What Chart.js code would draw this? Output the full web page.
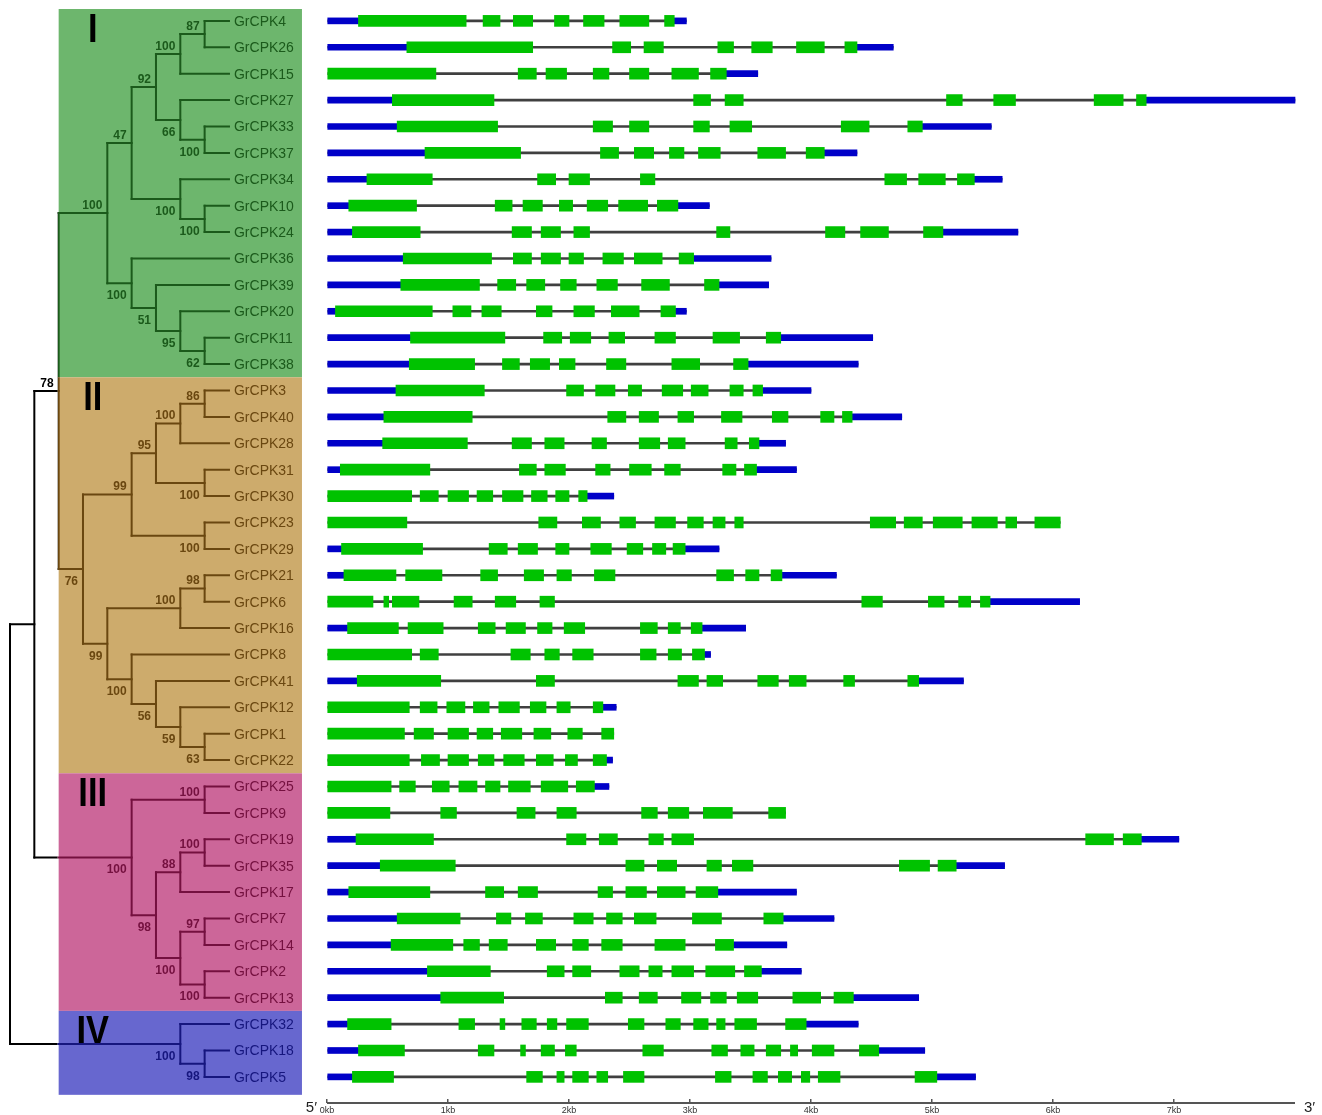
<!DOCTYPE html>
<html>
<head>
<meta charset="utf-8">
<script src="https://cdn.jsdelivr.net/npm/chart.js@4.4.1/dist/chart.umd.min.js"></script>
<style>
  html, body { margin: 0; padding: 0; background: #ffffff; }
  canvas { display: block; }
</style>
</head>
<body>
<canvas id="cpk" width="1322" height="1115"></canvas>
<script>
// Gene order (top to bottom) as it comes out of the tree
const geneNames = [
  'GrCPK4','GrCPK26','GrCPK15','GrCPK27','GrCPK33','GrCPK37','GrCPK34','GrCPK10','GrCPK24','GrCPK36',
  'GrCPK39','GrCPK20','GrCPK11','GrCPK38','GrCPK3','GrCPK40','GrCPK28','GrCPK31','GrCPK30','GrCPK23',
  'GrCPK29','GrCPK21','GrCPK6','GrCPK16','GrCPK8','GrCPK41','GrCPK12','GrCPK1','GrCPK22','GrCPK25',
  'GrCPK9','GrCPK19','GrCPK35','GrCPK17','GrCPK7','GrCPK14','GrCPK2','GrCPK13','GrCPK32','GrCPK18','GrCPK5'
];

// Total gene length (kb), transcription start at 0
const geneEnd = [
  2.97, 4.68, 3.56, 8.00, 5.49, 4.38, 5.58, 3.16, 5.71, 3.67,
  3.65, 2.97, 4.51, 4.39, 4.00, 4.75, 3.79, 3.88, 2.37, 6.06,
  3.24, 4.21, 6.22, 3.46, 3.17, 5.26, 2.39, 2.37, 2.36, 2.33,
  3.79, 7.04, 5.60, 3.88, 4.19, 3.80, 3.92, 4.89, 4.39, 4.94, 5.36
];

// CDS exons per gene as start,end pairs (kb); UTRs fill the gaps to 0 and to geneEnd
const exonBounds = [
  [0.26,1.15,1.29,1.43,1.54,1.70,1.88,2.00,2.12,2.29,2.42,2.66,2.79,2.87],
  [0.66,1.70,2.36,2.51,2.62,2.78,3.23,3.36,3.51,3.68,3.88,4.11,4.28,4.38],
  [0,0.90,1.58,1.73,1.81,1.98,2.20,2.33,2.50,2.66,2.85,3.07,3.17,3.30],
  [0.54,1.38,3.03,3.17,3.29,3.44,5.12,5.25,5.51,5.69,6.34,6.58,6.69,6.77],
  [0.58,1.41,2.20,2.36,2.50,2.66,3.03,3.16,3.33,3.51,4.25,4.48,4.80,4.92],
  [0.81,1.60,2.26,2.41,2.54,2.70,2.83,2.95,3.07,3.25,3.56,3.79,3.96,4.11],
  [0.33,0.87,1.74,1.89,2.00,2.17,2.59,2.71,4.61,4.79,4.89,5.11,5.21,5.35],
  [0.18,0.74,1.39,1.53,1.62,1.78,1.92,2.03,2.15,2.32,2.41,2.65,2.73,2.90],
  [0.21,0.77,1.53,1.69,1.77,1.93,2.04,2.17,3.22,3.33,4.12,4.28,4.41,4.64,4.93,5.09],
  [0.63,1.36,1.54,1.69,1.77,1.93,2.00,2.12,2.28,2.45,2.54,2.77,2.91,3.03],
  [0.61,1.26,1.41,1.56,1.65,1.80,1.93,2.06,2.23,2.40,2.60,2.83,3.12,3.24],
  [0.07,0.87,1.04,1.19,1.28,1.44,1.73,1.86,2.04,2.21,2.35,2.58,2.76,2.88],
  [0.69,1.47,1.79,1.94,2.01,2.18,2.33,2.46,2.71,2.88,3.19,3.41,3.63,3.75],
  [0.68,1.22,1.45,1.59,1.68,1.84,1.92,2.05,2.31,2.47,2.85,3.08,3.36,3.48],
  [0.57,1.30,1.98,2.12,2.22,2.38,2.49,2.60,2.77,2.94,3.01,3.15,3.33,3.44,3.52,3.60],
  [0.47,1.20,2.32,2.47,2.58,2.74,2.90,3.03,3.26,3.43,3.68,3.81,4.08,4.19,4.26,4.34],
  [0.46,1.16,1.53,1.69,1.80,1.96,2.19,2.31,2.58,2.75,2.82,2.96,3.29,3.39,3.49,3.57],
  [0.11,0.85,1.59,1.73,1.80,1.97,2.22,2.34,2.50,2.68,2.79,2.92,3.27,3.38,3.45,3.55],
  [0,0.70,0.77,0.92,1.00,1.17,1.24,1.37,1.45,1.62,1.69,1.82,1.89,2.00,2.08,2.15],
  [0,0.66,1.75,1.90,2.11,2.26,2.42,2.55,2.71,2.88,2.98,3.11,3.19,3.29,3.37,3.44,4.49,4.70,4.77,4.92,5.01,5.25,5.33,5.54,5.61,5.70,5.85,6.06],
  [0.12,0.79,1.34,1.49,1.58,1.74,1.89,2.00,2.18,2.35,2.48,2.61,2.69,2.80,2.86,2.96],
  [0.14,0.57,0.65,0.95,1.27,1.41,1.63,1.79,1.90,2.02,2.21,2.38,3.22,3.36,3.46,3.57,3.67,3.76],
  [0,0.38,0.47,0.51,0.54,0.76,1.05,1.20,1.39,1.56,1.76,1.88,4.42,4.59,4.97,5.10,5.22,5.32,5.40,5.48],
  [0.17,0.59,0.67,0.96,1.25,1.39,1.48,1.64,1.74,1.86,1.96,2.13,2.59,2.73,2.82,2.92,3.01,3.10],
  [0,0.70,0.77,0.92,1.52,1.68,1.80,1.92,2.03,2.20,2.59,2.72,2.82,2.93,3.02,3.12],
  [0.25,0.94,1.73,1.88,2.90,3.07,3.14,3.27,3.56,3.73,3.82,3.96,4.27,4.36,4.80,4.89],
  [0,0.68,0.77,0.91,0.99,1.14,1.21,1.34,1.42,1.59,1.68,1.81,1.90,2.01,2.20,2.28],
  [0,0.64,0.72,0.88,1.00,1.17,1.24,1.37,1.44,1.61,1.71,1.85,1.99,2.11,2.27,2.37],
  [0,0.68,0.78,0.93,1.00,1.17,1.25,1.38,1.46,1.63,1.73,1.87,1.97,2.07,2.20,2.31],
  [0,0.53,0.60,0.73,0.87,1.01,1.09,1.24,1.31,1.43,1.50,1.68,1.77,1.99,2.06,2.21],
  [0,0.52,0.94,1.07,1.57,1.72,1.90,2.06,2.60,2.73,2.82,2.99,3.11,3.35,3.65,3.79],
  [0.24,0.88,1.98,2.14,2.25,2.40,2.66,2.78,2.85,3.03,6.27,6.50,6.58,6.73],
  [0.44,1.06,2.47,2.62,2.73,2.89,3.14,3.26,3.35,3.52,4.73,4.98,5.05,5.20],
  [0.18,0.85,1.31,1.46,1.58,1.74,2.24,2.36,2.47,2.64,2.73,2.96,3.05,3.23],
  [0.58,1.10,1.40,1.52,1.64,1.78,2.04,2.20,2.31,2.44,2.54,2.72,3.02,3.26,3.61,3.77],
  [0.53,1.04,1.13,1.26,1.34,1.49,1.73,1.89,2.03,2.16,2.27,2.44,2.71,2.96,3.21,3.36],
  [0.83,1.35,1.82,1.96,2.03,2.18,2.42,2.58,2.66,2.77,2.85,3.03,3.13,3.37,3.45,3.59],
  [0.94,1.46,2.30,2.44,2.58,2.73,2.93,3.09,3.17,3.30,3.39,3.56,3.85,4.08,4.19,4.35],
  [0.17,0.53,1.09,1.22,1.43,1.47,1.61,1.73,1.82,1.90,1.98,2.16,2.49,2.62,2.80,2.92,3.03,3.15,3.22,3.29,3.37,3.55,3.79,3.96],
  [0.26,0.64,1.25,1.38,1.60,1.64,1.77,1.88,1.97,2.06,2.61,2.78,3.18,3.31,3.42,3.53,3.63,3.75,3.83,3.89,4.01,4.19,4.40,4.56],
  [0.21,0.55,1.65,1.78,1.90,1.96,2.03,2.16,2.23,2.32,2.45,2.62,3.21,3.34,3.52,3.64,3.73,3.84,3.92,3.99,4.06,4.24,4.86,5.04]
];

// Neighbour-joining topology with bootstrap support, one string per subfamily
const subfamilyI = '(((((GrCPK4,GrCPK26)87,GrCPK15)100,(GrCPK27,(GrCPK33,GrCPK37)100)66)92,(GrCPK34,(GrCPK10,GrCPK24)100)100)47,(GrCPK36,(GrCPK39,(GrCPK20,(GrCPK11,GrCPK38)62)95)51)100)100';
const subfamilyII = '(((((GrCPK3,GrCPK40)86,GrCPK28)100,(GrCPK31,GrCPK30)100)95,(GrCPK23,GrCPK29)100)99,(((GrCPK21,GrCPK6)98,GrCPK16)100,(GrCPK8,(GrCPK41,(GrCPK12,(GrCPK1,GrCPK22)63)59)56)100)99)76';
const subfamilyIII = '((GrCPK25,GrCPK9)100,(((GrCPK19,GrCPK35)100,GrCPK17)88,((GrCPK7,GrCPK14)97,(GrCPK2,GrCPK13)100)100)98)100';
const subfamilyIV = '(GrCPK32,(GrCPK18,GrCPK5)98)100';
const treeNewick = '(((' + subfamilyI + ',' + subfamilyII + ')78,' + subfamilyIII + '),' + subfamilyIV + ');';

// Subfamily blocks: label and the rows they span
const cladeNames = ['I', 'II', 'III', 'IV'];
const cladeFirstRow = [0, 14, 29, 38];
const cladeLastRow = [13, 28, 37, 40];

// Scale ticks (kb)
const kbTicks = [0, 1, 2, 3, 4, 5, 6, 7];
const kbAxisEnd = 8;

// Styling
const cladeFill = ['#6db66d', '#cdab6c', '#cc6699', '#6767cf'];
const cladeInk = ['#1b5a1b', '#6a4710', '#74103f', '#16167e'];
const exonColor = '#00c200';
const utrColor = '#0000c8';
const intronColor = '#404040';

// ---- tree parsing and cladogram layout ----
function parseNewick(text) {
  const s = text.replace(/\s+/g, '').replace(/;$/, '');
  let i = 0;
  function readNode() {
    const node = { children: [], support: null, name: null };
    if (s[i] === '(') {
      i++;
      node.children.push(readNode());
      while (s[i] === ',') { i++; node.children.push(readNode()); }
      i++; // closing bracket
      let lab = '';
      while (i < s.length && /[0-9.]/.test(s[i])) lab += s[i++];
      node.support = lab ? Number(lab) : null;
    } else {
      let nm = '';
      while (i < s.length && !/[,()]/.test(s[i])) nm += s[i++];
      node.name = nm;
    }
    return node;
  }
  return readNode();
}

const treeRoot = parseNewick(treeNewick);
(function layout(n) {
  if (!n.children.length) { n.h = 0; n.row = geneNames.indexOf(n.name); return; }
  n.children.forEach(layout);
  n.h = 1 + Math.max(...n.children.map(c => c.h));
  n.row = (n.children[0].row + n.children[n.children.length - 1].row) / 2;
})(treeRoot);
const treeDepth = treeRoot.h;
(function setLevel(n) { n.level = treeDepth - n.h; n.children.forEach(setLevel); })(treeRoot);

function eachNode(n, fn, parent, idx) {
  fn(n, parent, idx);
  n.children.forEach((c, k) => eachNode(c, fn, n, k));
}

// ---- gene structure bars ----
const exonData = [], utrData = [], intronData = [];
geneNames.forEach((g, i) => {
  const ex = exonBounds[i];
  intronData.push({ y: i, x: [0, geneEnd[i]] });
  if (ex[0] > 0) utrData.push({ y: i, x: [0, ex[0]] });
  const last = ex[ex.length - 1];
  if (geneEnd[i] > last + 0.001) utrData.push({ y: i, x: [last, geneEnd[i]] });
  for (let k = 0; k < ex.length; k += 2) exonData.push({ y: i, x: [ex[k], ex[k + 1]] });
});

const BOX_LEFT_LEVEL = 2;
const BOX_RIGHT_LEVEL = 12;
const UI_FONT = '"Liberation Sans", Arial, sans-serif';

function cladeRowSpan(k) {
  const top = k === 0 ? cladeFirstRow[0] - 0.45 : (cladeLastRow[k - 1] + cladeFirstRow[k]) / 2;
  const bottom = k === cladeNames.length - 1 ? cladeLastRow[k] + 0.68 : (cladeLastRow[k] + cladeFirstRow[k + 1]) / 2;
  return [top, bottom];
}

function cladeRects(chart) {
  const xt = chart.scales.xt, y = chart.scales.y;
  const left = xt.getPixelForValue(BOX_LEFT_LEVEL), right = xt.getPixelForValue(BOX_RIGHT_LEVEL);
  return cladeNames.map((nm, k) => {
    const [a, b] = cladeRowSpan(k);
    const top = y.getPixelForValue(a), bottom = y.getPixelForValue(b);
    return { left, right, top, bottom };
  });
}

function strokeTree(ctx, xt, y, color) {
  ctx.strokeStyle = color;
  ctx.lineWidth = 2;
  ctx.lineCap = 'square';
  eachNode(treeRoot, n => {
    if (!n.children.length) return;
    const px = xt.getPixelForValue(n.level);
    const first = n.children[0], last = n.children[n.children.length - 1];
    ctx.beginPath();
    ctx.moveTo(px, y.getPixelForValue(first.row));
    ctx.lineTo(px, y.getPixelForValue(last.row));
    ctx.stroke();
    n.children.forEach(c => {
      const cy = y.getPixelForValue(c.row);
      ctx.beginPath();
      ctx.moveTo(px, cy);
      ctx.lineTo(xt.getPixelForValue(c.level), cy);
      ctx.stroke();
    });
  });
}

const cladogramPlugin = {
  id: 'cladogram',
  beforeDatasetsDraw(chart) {
    const ctx = chart.ctx;
    const rects = cladeRects(chart);
    ctx.save();
    rects.forEach((r, k) => {
      ctx.fillStyle = cladeFill[k];
      ctx.fillRect(r.left, r.top, r.right - r.left, r.bottom - r.top);
    });
    ctx.restore();
  },
  afterDatasetsDraw(chart) {
    const ctx = chart.ctx;
    const xt = chart.scales.xt, y = chart.scales.y, x = chart.scales.x;
    const rects = cladeRects(chart);
    const boxLeft = rects[0].left;

    // subfamily numerals, drawn under the branches
    ctx.save();
    ctx.font = 'bold 41px ' + UI_FONT;
    ctx.textAlign = 'center';
    ctx.textBaseline = 'alphabetic';
    ctx.fillStyle = '#000000';
    const numX = xt.getPixelForValue(3.4);
    rects.forEach((r, k) => {
      ctx.save();
      ctx.translate(numX, r.top + 33);
      ctx.scale(0.84, 1);
      ctx.fillText(cladeNames[k], 0, 0);
      ctx.restore();
    });
    ctx.restore();

    // branches: black outside the blocks, subfamily colour inside
    ctx.save();
    ctx.beginPath();
    ctx.rect(0, 0, boxLeft - 1, chart.height);
    ctx.clip();
    strokeTree(ctx, xt, y, '#000000');
    ctx.restore();
    rects.forEach((r, k) => {
      ctx.save();
      ctx.beginPath();
      ctx.rect(r.left - 1, r.top, r.right - r.left + 1, r.bottom - r.top);
      ctx.clip();
      strokeTree(ctx, xt, y, cladeInk[k]);
      ctx.restore();
    });

    const inkAt = (px, py) => {
      if (px < boxLeft) return '#000000';
      for (let k = 0; k < rects.length; k++) {
        if (py >= rects[k].top && py < rects[k].bottom) return cladeInk[k];
      }
      return '#000000';
    };

    ctx.save();
    // leaf labels
    ctx.font = '14px ' + UI_FONT;
    ctx.textAlign = 'left';
    ctx.textBaseline = 'middle';
    const tipX = xt.getPixelForValue(treeDepth);
    geneNames.forEach((g, i) => {
      const py = y.getPixelForValue(i);
      ctx.fillStyle = inkAt(tipX + 5, py);
      ctx.fillText(g, tipX + 5, py + 1);
    });

    // bootstrap values
    ctx.font = 'bold 12px ' + UI_FONT;
    ctx.textAlign = 'right';
    ctx.textBaseline = 'alphabetic';
    eachNode(treeRoot, (n, parent, idx) => {
      if (!n.children.length || n.support === null) return;
      const px = xt.getPixelForValue(n.level) - 5;
      const py = y.getPixelForValue(n.row);
      const ty = idx === 0 ? py - 4 : py + 16;
      ctx.fillStyle = inkAt(px - 4, py);
      ctx.fillText(String(n.support), px, ty);
    });

    // kb axis baseline and strand ends
    const axisY = chart.chartArea.bottom + 4;
    ctx.strokeStyle = '#555555';
    ctx.lineWidth = 2;
    ctx.lineCap = 'butt';
    ctx.beginPath();
    ctx.moveTo(x.getPixelForValue(0), axisY);
    ctx.lineTo(x.getPixelForValue(kbAxisEnd), axisY);
    ctx.stroke();
    ctx.fillStyle = '#222222';
    ctx.font = '15px ' + UI_FONT;
    ctx.textBaseline = 'alphabetic';
    ctx.textAlign = 'right';
    ctx.fillText('5\u2032', x.getPixelForValue(0) - 10, axisY + 9);
    ctx.textAlign = 'left';
    ctx.fillText('3\u2032', x.getPixelForValue(kbAxisEnd) + 9, axisY + 9);
    ctx.restore();
  }
};

const W = 1322;
const KB_LEFT_PX = 327, KB_PER_PX = 1 / 121;
const LEVEL_LEFT_PX = 10, LEVEL_PX = 24.33;

new Chart(document.getElementById('cpk'), {
  type: 'bar',
  data: {
    datasets: [
      { label: 'CDS', data: exonData, backgroundColor: exonColor, borderWidth: 0, barThickness: 11, grouped: false, borderSkipped: false },
      { label: 'UTR', data: utrData, backgroundColor: utrColor, borderWidth: 0, barThickness: 6, grouped: false, borderSkipped: false },
      { label: 'Intron', data: intronData, backgroundColor: intronColor, borderWidth: 0, barThickness: 2, grouped: false, borderSkipped: false }
    ]
  },
  options: {
    indexAxis: 'y',
    responsive: false,
    animation: false,
    devicePixelRatio: 1,
    layout: { padding: { top: 9, left: 0, right: 0, bottom: 0 } },
    plugins: { legend: { display: false }, tooltip: { enabled: false } },
    scales: {
      x: {
        type: 'linear',
        position: 'bottom',
        offset: false,
        min: -KB_LEFT_PX * KB_PER_PX,
        max: (W - KB_LEFT_PX) * KB_PER_PX,
        afterBuildTicks: s => { s.ticks = kbTicks.map(v => ({ value: v })); },
        afterFit: s => { s.height = 16; },
        ticks: {
          callback: v => v + 'kb',
          font: { size: 9, family: UI_FONT },
          color: '#333333',
          padding: 2,
          maxRotation: 0,
          autoSkip: false
        },
        grid: { drawOnChartArea: false, tickLength: 4, color: '#555555', lineWidth: 1.5, offset: false },
        border: { display: false }
      },
      xt: {
        type: 'linear',
        axis: 'x',
        position: 'bottom',
        display: false,
        offset: false,
        min: -LEVEL_LEFT_PX / LEVEL_PX,
        max: (W - LEVEL_LEFT_PX) / LEVEL_PX
      },
      y: {
        type: 'linear',
        display: false,
        reverse: true,
        offset: false,
        grid: { offset: false },
        min: -0.45,
        max: -0.45 + (1115 - 16 - 9) / 26.4
      }
    }
  },
  plugins: [cladogramPlugin]
});
</script>
</body>
</html>
